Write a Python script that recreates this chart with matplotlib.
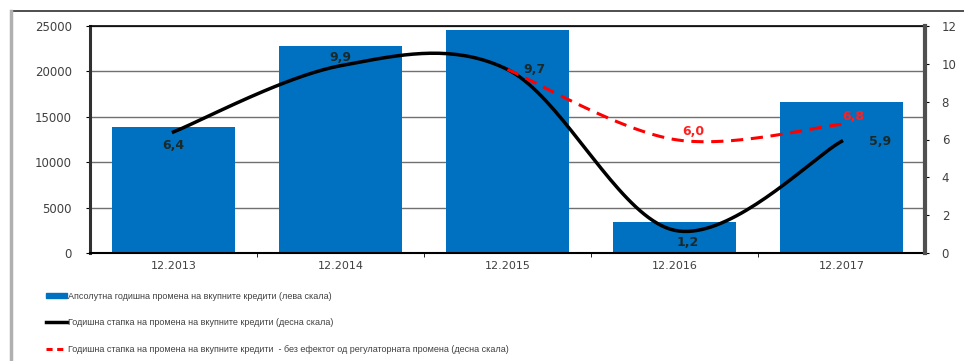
import numpy as np
import matplotlib
matplotlib.use("Agg")
import matplotlib.pyplot as plt
from matplotlib.patches import Patch
from matplotlib.lines import Line2D

categories = ["12.2013", "12.2014", "12.2015", "12.2016", "12.2017"]
abs_change = [13900, 22800, 24550, 3400, 16600]
rate = [6.4, 9.9, 9.7, 1.2, 5.9]
rate_excl = [None, None, 9.7, 6.0, 6.8]

legend_labels = [
    "Апсолутна годишна промена на вкупните кредити (лева скала)",
    "Годишна стапка на промена на вкупните кредити (десна скала)",
    "Годишна стапка на промена на вкупните кредити  - без ефектот од регулаторната промена (десна скала)",
]

BLUE = "#0070C0"


def smooth(xs, ys, n=40):
    # Excel-like smoothed line (Catmull-Rom / cubic Bezier through points)
    xs = np.asarray(xs, float)
    ys = np.asarray(ys, float)
    P = np.column_stack([xs, ys])
    Pp = np.vstack([P[0], P, P[-1]])
    out = []
    for i in range(len(P) - 1):
        p0, p1, p2, p3 = Pp[i], Pp[i + 1], Pp[i + 2], Pp[i + 3]
        c1 = p1 + (p2 - p0) / 6.0
        c2 = p2 - (p3 - p1) / 6.0
        t = np.linspace(0, 1, n)[:, None]
        seg = ((1 - t) ** 3) * p1 + 3 * ((1 - t) ** 2) * t * c1 + 3 * (1 - t) * t ** 2 * c2 + t ** 3 * p2
        out.append(seg if i == 0 else seg[1:])
    s = np.vstack(out)
    return s[:, 0], s[:, 1]


fig = plt.figure(figsize=(9.64, 3.61), dpi=100)
ax = fig.add_axes([90 / 964, 1 - 253 / 361, 835 / 964, 227 / 361])
x = np.arange(len(categories))

ax.bar(x, abs_change, width=0.74, color=BLUE, zorder=2)
ax.set_xlim(-0.5, len(categories) - 0.5)
ax.set_ylim(0, 25000)
ax.set_yticks(np.arange(0, 25001, 5000))
ax.yaxis.grid(True, color="#707070", linewidth=1.0, zorder=0)
ax.set_axisbelow(True)
ax.set_xticks(x)
ax.set_xticklabels(categories)
ax.tick_params(axis="x", length=0, labelsize=8, labelcolor="#404040", pad=6)
ax.set_xticks(np.arange(0.5, len(categories) - 1, 1), minor=True)
ax.tick_params(axis="x", which="minor", length=3, color="black", direction="out")
ax.tick_params(axis="y", labelsize=8.5, labelcolor="#404040", length=3, direction="out", pad=10)
ax.spines["left"].set_linewidth(2.2)
ax.spines["left"].set_color("#303030")
ax.spines["bottom"].set_linewidth(1.5)
ax.spines["top"].set_linewidth(1.2)
ax.spines["right"].set_visible(False)

ax2 = ax.twinx()
ax2.set_ylim(0, 12)
ax2.set_yticks(np.arange(0, 13, 2))
ax2.tick_params(axis="y", labelsize=8.5, labelcolor="#404040", length=3, direction="out", pad=9)
ax2.spines["right"].set_linewidth(3)
ax2.spines["right"].set_color("#505050")
for s in ["left", "top", "bottom"]:
    ax2.spines[s].set_visible(False)

sx, sy = smooth(x, rate)
ax2.plot(sx, sy, color="black", linewidth=2.5, zorder=3)

xe = [i for i, v in enumerate(rate_excl) if v is not None]
ye = [v for v in rate_excl if v is not None]
ex, ey = smooth(xe, ye)
ax2.plot(ex, ey, color="#FF0000", linewidth=2.2, linestyle=(0, (4, 2.5)), zorder=4)

lab_kw = dict(fontsize=9, fontweight="bold", ha="center", va="center")
fmt = lambda v: f"{v:.1f}".replace(".", ",")
offsets = [(0, -0.7), (0, 0.42), (0.16, 0.0), (0.08, -0.65), (0.23, 0.0)]
for i, v in enumerate(rate):
    dx, dy = offsets[i]
    ax2.text(x[i] + dx, v + dy, fmt(v), color="#1a2a2a", zorder=5, **lab_kw)
red_offsets = {3: (0.11, 0.42), 4: (0.07, 0.4)}
for i, v in enumerate(rate_excl):
    if v is None or i not in red_offsets:
        continue
    dx, dy = red_offsets[i]
    ax2.text(x[i] + dx, v + dy, fmt(v), color="#FF2020", zorder=5, **lab_kw)

handles = [
    Patch(facecolor=BLUE, edgecolor=BLUE),
    Line2D([0], [0], color="black", linewidth=2.5),
    Line2D([0], [0], color="#FF0000", linewidth=2.2, linestyle=(0, (2, 1.5))),
]
leg = fig.legend(handles, legend_labels, loc="upper left", bbox_to_anchor=(42 / 964, 1 - 288 / 361),
                 frameon=False, fontsize=6.5, handlelength=2.4, handleheight=0.6,
                 handletextpad=0.1, labelspacing=1.95, borderaxespad=0)
for t in leg.get_texts():
    t.set_color("#404040")
    t.set_family("Liberation Sans")

# outer frame
fig.add_artist(Line2D([11 / 964, 1], [1 - 11 / 361, 1 - 11 / 361], color="#303030", linewidth=1.2,
                      transform=fig.transFigure))
fig.add_artist(Line2D([11 / 964, 11 / 964], [0, 1 - 11 / 361], color="#b0b0b0", linewidth=2.5,
                      transform=fig.transFigure))

fig.savefig("out.png", dpi=100)
